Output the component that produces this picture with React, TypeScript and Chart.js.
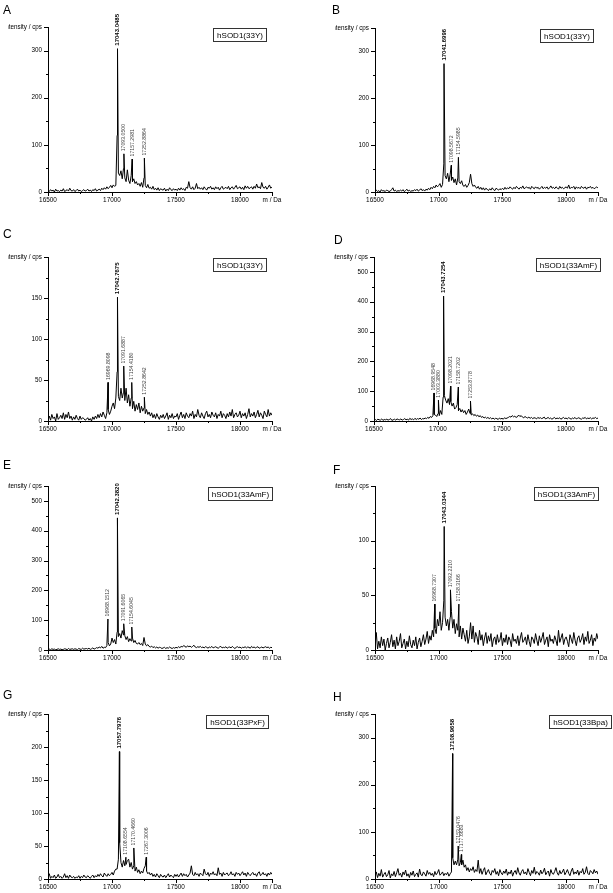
import React, { useEffect, useRef } from 'react';
import { Chart, registerables } from 'chart.js';

Chart.register(...registerables);

// ---------- shared axis data ----------
const X_MIN = 16500;
const X_MAX = 18250;
const X_STEP = 10; // spacing of the sampled intensity readings (Da)
const X_TICKS = [16500, 16750, 17000, 17250, 17500, 17750, 18000, 18250];
const X_MAJOR = [16500, 17000, 17500, 18000];
const X_UNIT_LABEL = 'm / Da';
const Y_UNIT_LABEL = 'intensity / cps';

// ---------- panel A ----------
const A_intensity = [
  3, 1, 5, 2, 4, 0, 6, 2, 3, 1,
  4, 2, 7, 1, 3, 5, 2, 8, 3, 2,
  5, 1, 3, 6, 2, 4, 1, 3, 5, 2,
  3, 6, 2, 4, 1, 5, 3, 7, 2, 4,
  6, 3, 8, 5, 9, 6, 11, 7, 10, 14,
  9, 15, 12, 14, 120, 40, 35, 45, 28, 50,
  30, 22, 47, 25, 18, 35, 22, 28, 18, 22,
  15, 18, 12, 20, 10, 30, 14, 9, 16, 8,
  10, 6, 12, 5, 8, 4, 9, 3, 7, 5,
  4, 8, 2, 6, 3, 9, 5, 3, 7, 4,
  6, 3, 8, 4, 9, 5, 7, 3, 10, 8,
  22, 9, 6, 11, 5, 8, 18, 7, 10, 6,
  9, 5, 11, 7, 4, 10, 8, 12, 6, 9,
  5, 11, 7, 10, 4, 9, 12, 6, 8, 10,
  7, 12, 5, 9, 11, 6, 10, 14, 7, 9,
  11, 6, 10, 5, 13, 8, 12, 7, 9, 11,
  6, 12, 8, 17, 9, 11, 7, 20, 10, 8,
  12, 6, 10, 15, 8, 11,
];
const A_peakMz = [17043.0485, 17093.05, 17157.2981, 17252.8864];
const A_peakIntensity = [304, 81, 70, 72];
const A_peakLabels = ['17043.0485', '17093.0500', '17157.2981', '17252.8864'];

// ---------- panel B ----------
const B_intensity = [
  2, 4, 1, 3, 0, 5, 2, 3, 1, 4,
  3, 1, 2, 5, 9, 2, 4, 1, 3, 2,
  4, 2, 5, 1, 3, 6, 2, 4, 1, 3,
  2, 5, 3, 6, 2, 4, 7, 3, 5, 2,
  6, 4, 8, 5, 10, 7, 12, 9, 15, 11,
  14, 18, 10, 16, 60, 35, 28, 40, 22, 38,
  25, 32, 20, 28, 15, 30, 22, 18, 24, 14,
  12, 16, 10, 14, 20, 38, 18, 12, 15, 10,
  8, 12, 6, 10, 5, 9, 4, 8, 6, 3,
  7, 4, 9, 5, 3, 8, 6, 4, 7, 5,
  8, 5, 10, 6, 9, 7, 11, 8, 6, 10,
  7, 12, 9, 6, 10, 8, 13, 7, 9, 11,
  8, 10, 6, 12, 9, 7, 11, 8, 10, 6,
  9, 12, 7, 10, 8, 11, 6, 9, 13, 8,
  10, 7, 11, 9, 6, 12, 8, 10, 7, 9,
  11, 8, 15, 7, 10, 9, 12, 6, 11, 8,
  10, 7, 12, 9, 8, 11, 6, 10, 9, 12,
  8, 10, 7, 9, 11, 8,
];
const B_peakMz = [17041.6996, 17098.5672, 17154.5985];
const B_peakIntensity = [274, 57, 74];
const B_peakLabels = ['17041.6996', '17098.5672', '17154.5985'];

// ---------- panel C ----------
const C_intensity = [
  2, 6, 1, 8, 3, 5, 0, 9, 2, 4,
  7, 3, 10, 2, 8, 4, 11, 3, 6, 1,
  5, 2, 7, 3, 1, 6, 2, 4, 3, 1,
  2, 4, 1, 3, 0, 5, 2, 6, 3, 8,
  4, 9, 5, 11, 7, 3, 10, 14, 8, 12,
  18, 22, 15, 28, 60, 30, 25, 40, 28, 35,
  25, 40, 22, 32, 18, 28, 15, 24, 12, 20,
  14, 22, 10, 18, 12, 16, 9, 14, 8, 11,
  6, 10, 4, 8, 3, 9, 5, 2, 7, 4,
  8, 3, 6, 10, 2, 7, 4, 9, 3, 6,
  5, 9, 2, 7, 11, 4, 8, 3, 10, 6,
  4, 9, 6, 12, 3, 8, 5, 14, 7, 4,
  10, 6, 3, 9, 12, 5, 8, 4, 11, 7,
  5, 10, 3, 8, 6, 12, 4, 9, 7, 3,
  9, 5, 11, 6, 14, 4, 8, 10, 5, 7,
  12, 4, 9, 6, 10, 3, 8, 15, 5, 9,
  6, 11, 4, 8, 13, 5, 10, 7, 3, 12,
  8, 5, 14, 6, 10, 7,
];
const C_peakMz = [16969.8098, 17042.7675, 17091.6887, 17154.418, 17252.8642];
const C_peakIntensity = [47, 151, 67, 47, 29];
const C_peakLabels = ['16969.8098', '17042.7675', '17091.6887', '17154.4180', '17252.8642'];

// ---------- panel D ----------
const D_intensity = [
  3, 5, 2, 6, 4, 3, 7, 2, 5, 4,
  6, 3, 5, 8, 2, 4, 6, 3, 7, 5,
  4, 7, 3, 5, 8, 4, 6, 3, 9, 5,
  7, 4, 9, 5, 8, 6, 10, 5, 8, 7,
  10, 8, 12, 9, 15, 12, 18, 22, 20, 15,
  25, 18, 35, 22, 80, 85, 70, 60, 75, 55,
  65, 50, 60, 40, 45, 55, 35, 42, 30, 38,
  28, 35, 22, 30, 40, 25, 20, 24, 18, 22,
  16, 20, 14, 18, 12, 15, 10, 13, 9, 12,
  8, 11, 7, 10, 6, 9, 8, 5, 10, 7,
  9, 6, 11, 8, 10, 12, 15, 13, 18, 14,
  16, 12, 14, 20, 15, 18, 13, 11, 15, 12,
  10, 13, 9, 12, 8, 11, 10, 7, 12, 9,
  11, 8, 10, 13, 7, 9, 12, 8, 10, 6,
  9, 12, 7, 10, 8, 11, 6, 9, 12, 8,
  10, 7, 11, 9, 6, 10, 8, 12, 7, 9,
  11, 8, 6, 10, 9, 12, 7, 10, 8, 11,
  7, 10, 9, 12, 8, 10,
];
const D_peakMz = [16968.9548, 17003.388, 17043.7254, 17098.2021, 17158.7202, 17253.8778];
const D_peakIntensity = [94, 70, 419, 117, 114, 67];
const D_peakLabels = ['16968.9548', '17003.3880', '17043.7254', '17098.2021', '17158.7202', '17253.8778'];

// ---------- panel E ----------
const E_intensity = [
  2, 3, 1, 4, 2, 3, 1, 2, 4, 2,
  3, 1, 2, 4, 3, 1, 5, 2, 3, 4,
  2, 4, 3, 1, 5, 3, 2, 6, 3, 4,
  5, 3, 6, 2, 4, 7, 3, 5, 8, 6,
  10, 7, 12, 6, 9, 8, 15, 25, 14, 20,
  40, 25, 35, 20, 60, 45, 55, 40, 65, 50,
  48, 35, 45, 28, 38, 30, 40, 25, 32, 22,
  20, 25, 18, 22, 15, 42, 20, 14, 18, 12,
  10, 13, 8, 11, 7, 10, 6, 9, 8, 5,
  7, 9, 5, 8, 6, 10, 7, 5, 8, 6,
  9, 7, 11, 8, 12, 10, 15, 12, 9, 14,
  11, 13, 9, 12, 16, 10, 8, 11, 9, 12,
  8, 10, 7, 11, 9, 6, 10, 8, 12, 7,
  9, 11, 8, 6, 10, 12, 7, 9, 8, 11,
  6, 9, 10, 7, 12, 8, 5, 9, 11, 8,
  10, 6, 9, 8, 11, 7, 10, 9, 6, 12,
  8, 10, 7, 9, 11, 6, 8, 10, 7, 9,
  11, 8, 10, 6, 9, 8,
];
const E_peakMz = [16968.1512, 17042.382, 17091.6065, 17154.6045];
const E_peakIntensity = [104, 443, 88, 77];
const E_peakLabels = ['16968.1512', '17042.3820', '17091.6065', '17154.6045'];

// ---------- panel F ----------
const F_intensity = [
  3, 16, 1, 8, 2, 12, 4, 10, 0, 6,
  11, 2, 7, 14, 3, 9, 1, 12, 4, 8,
  15, 2, 6, 10, 1, 8, 3, 13, 5, 2,
  9, 4, 12, 1, 7, 11, 3, 8, 14, 5,
  10, 17, 6, 13, 9, 18, 12, 20, 15, 28,
  22, 35, 18, 25, 45, 30, 22, 28, 18, 30,
  35, 20, 28, 15, 24, 18, 12, 22, 10, 20,
  14, 8, 18, 6, 12, 25, 10, 22, 7, 16,
  12, 5, 18, 9, 14, 4, 11, 16, 6, 13,
  8, 15, 3, 10, 12, 5, 14, 7, 9, 16,
  4, 11, 7, 14, 5, 12, 9, 3, 15, 8,
  10, 6, 13, 4, 11, 16, 7, 9, 12, 5,
  14, 8, 3, 12, 10, 6, 15, 9, 4, 13,
  7, 11, 16, 5, 9, 12, 3, 14, 8, 10,
  6, 13, 9, 4, 18, 7, 11, 15, 5, 10,
  12, 8, 3, 14, 10, 6, 16, 9, 4, 11,
  13, 7, 10, 15, 5, 12, 8, 17, 6, 9,
  14, 4, 11, 8, 15, 10,
];
const F_peakMz = [16968.7307, 17043.0344, 17092.221, 17158.3166];
const F_peakIntensity = [42, 113, 55, 42];
const F_peakLabels = ['16968.7307', '17043.0344', '17092.2210', '17158.3166'];

// ---------- panel G ----------
const G_intensity = [
  2, 8, 1, 4, 2, 6, 1, 3, 7, 2,
  4, 1, 3, 8, 2, 5, 1, 6, 3, 2,
  4, 1, 3, 2, 5, 1, 4, 2, 6, 3,
  2, 5, 3, 1, 4, 6, 2, 5, 3, 7,
  4, 8, 5, 3, 9, 6, 4, 8, 5, 7,
  10, 6, 12, 15, 15, 30, 55, 25, 18, 28,
  20, 22, 28, 30, 18, 25, 15, 20, 12, 18,
  10, 14, 8, 12, 9, 16, 20, 12, 8, 10,
  6, 9, 4, 7, 3, 8, 5, 2, 7, 4,
  3, 6, 2, 5, 8, 3, 6, 4, 2, 7,
  4, 7, 3, 6, 9, 4, 8, 5, 7, 3,
  6, 9, 20, 7, 5, 10, 6, 8, 4, 9,
  7, 5, 15, 8, 6, 10, 4, 9, 7, 11,
  6, 8, 5, 17, 7, 9, 4, 10, 6, 8,
  9, 5, 7, 11, 6, 8, 4, 10, 7, 9,
  5, 8, 11, 6, 9, 4, 10, 7, 5, 8,
  10, 6, 8, 4, 9, 11, 5, 7, 10, 6,
  8, 4, 9, 6, 10, 7,
];
const G_peakMz = [17057.7976, 17108.6554, 17170.466, 17267.3006];
const G_peakIntensity = [193, 33, 47, 33];
const G_peakLabels = ['17057.7976', '17108.6554', '17170.4660', '17267.3006'];

// ---------- panel H ----------
const H_intensity = [
  8, 15, 3, 12, 6, 20, 4, 10, 14, 5,
  9, 18, 2, 11, 7, 16, 5, 13, 22, 8,
  12, 4, 15, 9, 19, 6, 11, 3, 14, 8,
  17, 5, 10, 13, 4, 21, 9, 7, 15, 11,
  6, 18, 10, 14, 8, 12, 5, 16, 9, 13,
  20, 8, 11, 15, 7, 12, 9, 14, 6, 11,
  15, 45, 30, 38, 30, 42, 28, 35, 30, 40,
  25, 30, 18, 24, 15, 22, 18, 26, 14, 20,
  16, 40, 12, 22, 10, 18, 24, 9, 15, 20,
  12, 8, 18, 14, 22, 10, 16, 7, 20, 13,
  9, 17, 12, 21, 8, 15, 11, 19, 6, 14,
  18, 10, 24, 13, 8, 16, 20, 11, 15, 9,
  22, 14, 7, 18, 12, 25, 10, 16, 13, 8,
  19, 11, 15, 23, 9, 14, 17, 6, 20, 12,
  10, 16, 24, 13, 8, 18, 11, 15, 21, 9,
  14, 20, 12, 7, 17, 23, 10, 15, 11, 19,
  8, 16, 13, 22, 10, 14, 26, 12, 9, 18,
  15, 11, 20, 13, 17, 10,
];
const H_peakMz = [17108.9658, 17153.0476, 17177.6683];
const H_peakIntensity = [266, 70, 52];
const H_peakLabels = ['17108.9658', '17153.0476', '17177.6683'];

// ---------- panel configuration (layout / style) ----------
const FONT = "'Liberation Sans', Arial, Helvetica, sans-serif";
const Y_AXIS_W = 40;
const X_AXIS_H = 12;

type PanelCfg = {
  letter: string; name: string;
  intensity: number[]; peakMz: number[]; peakI: number[]; peakLabels: string[];
  yMax: number; yMajor: number;
  cx: number; cy: number; cw: number; ch: number;
  l: number; r: number; t: number; b: number;
  lx: number; ly: number; boxDx: number;
};

const PANELS: PanelCfg[] = [
  { letter: 'A', name: 'hSOD1(33Y)', intensity: A_intensity, peakMz: A_peakMz, peakI: A_peakIntensity, peakLabels: A_peakLabels,
    yMax: 350, yMajor: 100, cx: 0, cy: 0, cw: 305, ch: 225, l: 48, r: 272, t: 27, b: 192, lx: 3, ly: 13.5, boxDx: -6 },
  { letter: 'B', name: 'hSOD1(33Y)', intensity: B_intensity, peakMz: B_peakMz, peakI: B_peakIntensity, peakLabels: B_peakLabels,
    yMax: 350, yMajor: 100, cx: 305, cy: 0, cw: 308, ch: 225, l: 375, r: 598, t: 28, b: 192, lx: 332, ly: 13.5, boxDx: -5 },
  { letter: 'C', name: 'hSOD1(33Y)', intensity: C_intensity, peakMz: C_peakMz, peakI: C_peakIntensity, peakLabels: C_peakLabels,
    yMax: 200, yMajor: 50, cx: 0, cy: 225, cw: 305, ch: 230, l: 48, r: 272, t: 257, b: 421, lx: 3, ly: 237.5, boxDx: -6 },
  { letter: 'D', name: 'hSOD1(33AmF)', intensity: D_intensity, peakMz: D_peakMz, peakI: D_peakIntensity, peakLabels: D_peakLabels,
    yMax: 550, yMajor: 100, cx: 305, cy: 225, cw: 308, ch: 230, l: 374, r: 598, t: 257, b: 421, lx: 334, ly: 244, boxDx: 2 },
  { letter: 'E', name: 'hSOD1(33AmF)', intensity: E_intensity, peakMz: E_peakMz, peakI: E_peakIntensity, peakLabels: E_peakLabels,
    yMax: 550, yMajor: 100, cx: 0, cy: 455, cw: 305, ch: 230, l: 48, r: 272, t: 486, b: 650, lx: 3, ly: 468.5, boxDx: 0 },
  { letter: 'F', name: 'hSOD1(33AmF)', intensity: F_intensity, peakMz: F_peakMz, peakI: F_peakIntensity, peakLabels: F_peakLabels,
    yMax: 150, yMajor: 50, cx: 305, cy: 455, cw: 308, ch: 230, l: 375, r: 598, t: 486, b: 650, lx: 333, ly: 473.5, boxDx: 0 },
  { letter: 'G', name: 'hSOD1(33PxF)', intensity: G_intensity, peakMz: G_peakMz, peakI: G_peakIntensity, peakLabels: G_peakLabels,
    yMax: 250, yMajor: 50, cx: 0, cy: 685, cw: 305, ch: 208, l: 48, r: 272, t: 714, b: 879, lx: 3, ly: 699, boxDx: -4 },
  { letter: 'H', name: 'hSOD1(33Bpa)', intensity: H_intensity, peakMz: H_peakMz, peakI: H_peakIntensity, peakLabels: H_peakLabels,
    yMax: 350, yMajor: 100, cx: 305, cy: 685, cw: 308, ch: 208, l: 375, r: 598, t: 714, b: 879, lx: 333, ly: 701, boxDx: 13 },
];

function buildPoints(p: PanelCfg) {
  const pts = p.intensity.map((v, i) => ({ x: X_MIN + i * X_STEP, y: v }));
  p.peakMz.forEach((m, k) => pts.push({ x: m, y: p.peakI[k] }));
  pts.sort((a, b) => a.x - b.x);
  return pts;
}

function Panel({ p }: { p: PanelCfg }) {
  const ref = useRef<HTMLCanvasElement>(null);
  useEffect(() => {
    const canvas = ref.current;
    if (!canvas) return;
    const yTicks: number[] = [];
    for (let v = 0; v <= p.yMax + 1e-9; v += p.yMajor / 2) yTicks.push(v);
    const mainIdx = p.peakI.indexOf(Math.max(...p.peakI));

    const overlay = {
      id: 'overlay' + p.letter,
      afterDraw(chart: any) {
        const { ctx, chartArea } = chart;
        const xs = chart.scales.x;
        const ys = chart.scales.y;
        ctx.save();
        // tick marks (outward)
        ctx.strokeStyle = '#000';
        ctx.lineWidth = 1;
        yTicks.forEach((v) => {
          const py = Math.round(ys.getPixelForValue(v)) + 0.5;
          const major = v % p.yMajor === 0 || v === p.yMax;
          const len = major ? 4 : 2;
          ctx.beginPath();
          ctx.moveTo(chartArea.left - len, py);
          ctx.lineTo(chartArea.left, py);
          ctx.stroke();
        });
        X_TICKS.forEach((v) => {
          const px = Math.round(xs.getPixelForValue(v)) + 0.5;
          const major = X_MAJOR.includes(v) || v === X_MAX;
          const len = major ? 4 : 2;
          ctx.beginPath();
          ctx.moveTo(px, chartArea.bottom);
          ctx.lineTo(px, chartArea.bottom + len);
          ctx.stroke();
        });
        // peak labels
        p.peakMz.forEach((m, k) => {
          const px = xs.getPixelForValue(m);
          const py = ys.getPixelForValue(p.peakI[k]);
          const main = k === mainIdx;
          ctx.save();
          ctx.translate(px, py - (main ? 3 : 2.5));
          ctx.rotate(-Math.PI / 2);
          ctx.font = main ? `bold 6px ${FONT}` : `5.2px ${FONT}`;
          ctx.fillStyle = main ? '#000' : '#444';
          ctx.textAlign = 'left';
          ctx.textBaseline = 'middle';
          ctx.fillText(p.peakLabels[k], 0, 0);
          ctx.restore();
        });
        // sample name box
        ctx.font = `8px ${FONT}`;
        const tw = ctx.measureText(p.name).width;
        const bw = Math.round(tw + 7);
        const bh = 13;
        const bx = Math.round(chartArea.right + p.boxDx - bw) + 0.5;
        const by = Math.round(chartArea.top + 1) + 0.5;
        ctx.fillStyle = '#fff';
        ctx.fillRect(bx, by, bw, bh);
        ctx.strokeStyle = '#333';
        ctx.lineWidth = 1;
        ctx.strokeRect(bx, by, bw, bh);
        ctx.fillStyle = '#000';
        ctx.textAlign = 'center';
        ctx.textBaseline = 'middle';
        ctx.fillText(p.name, bx + bw / 2, by + bh / 2 + 0.5);
        // panel letter
        ctx.font = `12px ${FONT}`;
        ctx.textAlign = 'left';
        ctx.textBaseline = 'alphabetic';
        ctx.fillText(p.letter, p.lx - p.cx, p.ly - p.cy);
        ctx.restore();
      },
    };

    const chart = new Chart(canvas, {
      type: 'line',
      data: {
        datasets: [
          {
            data: buildPoints(p),
            borderColor: '#000',
            borderWidth: 1,
            pointRadius: 0,
            tension: 0,
            fill: false,
          },
        ],
      },
      options: {
        animation: false,
        responsive: false,
        maintainAspectRatio: false,
        devicePixelRatio: 1,
        parsing: false,
        normalized: true,
        events: [],
        layout: {
          padding: {
            left: p.l - p.cx - Y_AXIS_W,
            right: p.cx + p.cw - p.r,
            top: p.t - p.cy,
            bottom: p.cy + p.ch - p.b - X_AXIS_H,
          },
        },
        plugins: {
          legend: { display: false },
          tooltip: { enabled: false },
          title: { display: false },
        },
        scales: {
          x: {
            type: 'linear',
            min: X_MIN,
            max: X_MAX,
            afterBuildTicks: (s: any) => {
              s.ticks = X_TICKS.map((v) => ({ value: v }));
            },
            afterFit: (s: any) => {
              s.height = X_AXIS_H;
            },
            grid: { display: false, drawTicks: false },
            border: { display: true, color: '#000', width: 1 },
            ticks: {
              autoSkip: false,
              maxRotation: 0,
              minRotation: 0,
              padding: 4,
              color: '#000',
              font: { family: FONT, size: 6.4 },
              callback: (v: any) => {
                const n = Number(v);
                if (n === X_MAX) return X_UNIT_LABEL;
                return X_MAJOR.includes(n) ? String(n) : '';
              },
            },
          },
          y: {
            type: 'linear',
            min: 0,
            max: p.yMax,
            afterBuildTicks: (s: any) => {
              s.ticks = yTicks.map((v) => ({ value: v }));
            },
            afterFit: (s: any) => {
              s.width = Y_AXIS_W;
            },
            grid: { display: false, drawTicks: false },
            border: { display: true, color: '#000', width: 1 },
            ticks: {
              autoSkip: false,
              padding: 6,
              color: '#000',
              font: { family: FONT, size: 6.3 },
              callback: (v: any) => {
                const n = Number(v);
                if (n === p.yMax) return Y_UNIT_LABEL;
                return n % p.yMajor === 0 ? String(n) : '';
              },
            },
          },
        },
      },
      plugins: [overlay],
    } as any);
    return () => chart.destroy();
  }, [p]);

  return (
    <canvas
      ref={ref}
      width={p.cw}
      height={p.ch}
      style={{ position: 'absolute', left: p.cx, top: p.cy, width: p.cw, height: p.ch }}
    />
  );
}

export default function App() {
  return (
    <div style={{ position: 'absolute', left: 0, top: 0, width: 613, height: 893, background: '#fff', overflow: 'hidden' }}>
      {PANELS.map((p) => (
        <Panel key={p.letter} p={p} />
      ))}
    </div>
  );
}
